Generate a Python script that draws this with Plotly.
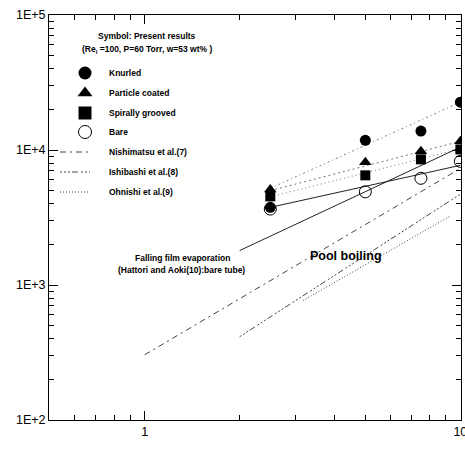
import plotly.graph_objects as go

# ---- data ----
superheat = [2.5, 5.0, 7.5, 10.0]
knurled = [3760, 11800, 13800, 22600]
particle_coated = [5100, 8100, 9780, 11600]
spirally_grooved = [4530, 6490, 8530, 10100]
bare = [3650, 4900, 6170, 8240]

# fitted / correlation lines (endpoints)
bare_fit_x = [2.5, 10.0]
bare_fit_y = [3760, 7700]
falling_film_x = [2.0, 10.0]
falling_film_y = [1800, 10500]
knurled_fit_x = [2.5, 10.0]
knurled_fit_y = [5200, 22600]
coated_fit_x = [2.5, 10.0]
coated_fit_y = [5000, 11600]
grooved_fit_x = [2.5, 10.0]
grooved_fit_y = [4500, 10200]

nishimatsu_x = [1.0, 10.0]
nishimatsu_y = [304, 7300]
ishibashi_x = [2.0, 10.0]
ishibashi_y = [414, 4710]
ohnishi_x = [3.17, 9.3]
ohnishi_y = [766, 3250]

y_tickvals = [100, 1000, 10000, 100000]
y_ticktext = ["1E+2", "1E+3", "1E+4", "1E+5"]
x_tickvals = [1, 10]
x_ticktext = ["1", "10"]

FONT = "Liberation Sans, Arial, sans-serif"
LINE = "#444444"

fig = go.Figure()

def line(xs, ys, dash, color=LINE, width=1):
    fig.add_trace(go.Scatter(x=xs, y=ys, mode="lines",
                             line=dict(color=color, width=width, dash=dash),
                             showlegend=False, hoverinfo="skip"))

# pool boiling correlations
line(nishimatsu_x, nishimatsu_y, "6px,4px,2px,4px")
line(ishibashi_x, ishibashi_y, "2px,2px,2px,2px,2px,2px,6px,3px")
line(ohnishi_x, ohnishi_y, "1px,2px")
# fits
line(knurled_fit_x, knurled_fit_y, "2px,3px,1px,3px", color="#777777")
line(coated_fit_x, coated_fit_y, "2px,3px", color="#777777")
line(grooved_fit_x, grooved_fit_y, "1px,3px", color="#777777")
line(falling_film_x, falling_film_y, "solid", color="#222222")
line(bare_fit_x, bare_fit_y, "solid", color="#222222")

def marker_style(symbol, size):
    if symbol.endswith("-open"):
        return dict(symbol=symbol, size=size, color="black",
                    line=dict(color="black", width=1))
    return dict(symbol=symbol, size=size, color="black", line=dict(width=0))

def pts(ys, symbol, size):
    fig.add_trace(go.Scatter(x=superheat, y=ys, mode="markers", showlegend=False,
                             marker=marker_style(symbol, size)))

pts(knurled, "circle", 11)
pts(spirally_grooved, "square", 10)
pts(particle_coated, "triangle-up", 11)
pts(bare, "circle-open", 12)

# ---- hand-made legend on a pixel overlay axis ----
legend_rows = [
    ("Knurled", "circle", None),
    ("Particle coated", "triangle-up", None),
    ("Spirally grooved", "square", None),
    ("Bare", "circle-open", None),
    ("Nishimatsu et al.(7)", None, "6px,4px,2px,4px"),
    ("Ishibashi et al.(8)", None, "2px,2px,2px,2px,2px,2px,6px,3px"),
    ("Ohnishi et al.(9)", None, "1px,2px"),
]
row_y = [73, 93, 113, 132, 152, 172, 192]
for (label, sym, dash), yy in zip(legend_rows, row_y):
    if sym:
        fig.add_trace(go.Scatter(
            x=[85], y=[yy], xaxis="x2", yaxis="y2", mode="markers",
            showlegend=False, hoverinfo="skip",
            marker=marker_style(sym, 13)))
    else:
        fig.add_trace(go.Scatter(
            x=[60, 90], y=[yy, yy], xaxis="x2", yaxis="y2", mode="lines",
            showlegend=False, hoverinfo="skip",
            line=dict(color=LINE, width=1, dash=dash)))
    fig.add_annotation(x=107, y=yy, xref="x2", yref="y2", text="<b>%s</b>" % label,
                       showarrow=False, xanchor="left", yanchor="middle",
                       font=dict(family=FONT, size=8.5, color="black"))

texts = [
    (147, 36, "<b>Symbol: Present results</b>", 8.5),
    (147, 49, "<b>(Re<sub>l</sub> =100, P=60 Torr, w=53 wt% )</b>", 8.5),
    (182, 258, "<b>Falling film evaporation</b>", 8.5),
    (181, 270, "<b>(Hattori and Aoki(10):bare tube)</b>", 8.5),
    (346, 256, "<b>Pool boiling</b>", 12.5),
    (255, 460, "<b>Wall superheat ( ° C )</b>", 15),
]
for xx, yy, t, s in texts:
    fig.add_annotation(x=xx, y=yy, xref="x2", yref="y2", text=t, showarrow=False,
                       xanchor="center", yanchor="middle",
                       font=dict(family=FONT, size=s, color="black"))

minor_x = [0.6, 0.7, 0.8, 0.9, 2, 3, 4, 5, 6, 7, 8, 9]
minor_y = [m * d for d in (100, 1000, 10000) for m in range(2, 10)]

fig.update_layout(
    width=465, height=470,
    margin=dict(l=49, r=4, t=15, b=50),
    paper_bgcolor="white", plot_bgcolor="white",
    showlegend=False,
    font=dict(family=FONT, color="black"),
    xaxis=dict(type="log", range=[-0.303, 1.002], automargin=False,
               tickmode="array", tickvals=x_tickvals, ticktext=x_ticktext,
               ticks="inside", ticklen=9, tickcolor="black",
               ticklabeloverflow="allow",
               showline=True, linecolor="black", linewidth=1, mirror="ticks",
               showgrid=False, zeroline=False,
               tickfont=dict(family=FONT, size=12.5, color="black"),
               minor=dict(tickvals=minor_x, ticks="inside", ticklen=5,
                          tickcolor="black", showgrid=False)),
    yaxis=dict(type="log", range=[2, 5], automargin=False,
               tickmode="array", tickvals=y_tickvals, ticktext=y_ticktext,
               ticks="inside", ticklen=9, tickcolor="black",
               showline=True, linecolor="black", linewidth=1, mirror="ticks",
               showgrid=False, zeroline=False,
               tickfont=dict(family=FONT, size=12.5, color="black"),
               minor=dict(tickvals=minor_y, ticks="inside", ticklen=5,
                          tickcolor="black", showgrid=False)),
    xaxis2=dict(range=[49, 461], overlaying="x", anchor="y2", visible=False,
                fixedrange=True, automargin=False),
    yaxis2=dict(range=[420, 15], overlaying="y", anchor="x2", visible=False,
                fixedrange=True, automargin=False),
)

fig.write_html("out.html")
